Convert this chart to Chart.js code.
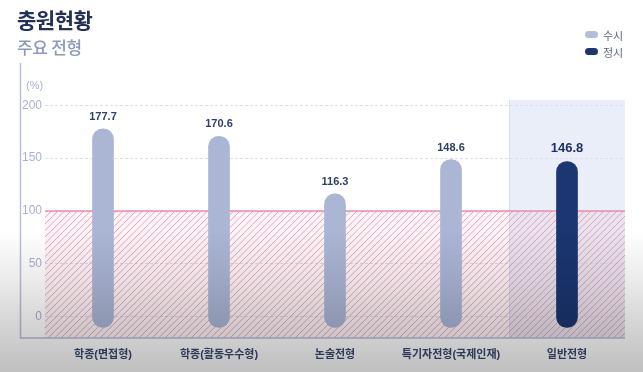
<!DOCTYPE html>
<html><head><meta charset="utf-8">
<script src="https://cdn.jsdelivr.net/npm/chart.js@4/dist/chart.umd.min.js"></script>
<style>
html,body{margin:0;padding:0;width:643px;height:372px;overflow:hidden;background:#fff;font-family:"Noto Sans CJK KR","Liberation Sans",sans-serif;}
#wrap{position:relative;width:643px;height:372px;}
#c{position:absolute;left:0;top:0;}
#title{position:absolute;left:17px;top:4px;font-size:21px;font-weight:700;color:#233158;letter-spacing:-0.5px;}
#sub{position:absolute;left:17px;top:34px;font-size:17px;font-weight:500;color:#8d9aba;letter-spacing:-0.3px;}
#legend{position:absolute;left:585px;top:26px;font-size:11px;color:#5f6780;}
#legend div{height:17px;display:flex;align-items:center;}
#legend span.m{display:inline-block;width:13px;height:7px;border-radius:4px;margin-right:5px;}
#shade{position:absolute;left:0;top:0;width:643px;height:372px;pointer-events:none;
background:linear-gradient(to bottom,rgba(0,0,0,0) 0px,rgba(0,0,0,0) 230px,rgba(0,0,0,0.08) 280px,rgba(0,0,0,0.17) 325px,rgba(0,0,0,0.25) 372px);}
</style></head>
<body><div id="wrap">
<canvas id="c" width="643" height="372"></canvas>
<div id="title">충원현황</div>
<div id="sub">주요 전형</div>
<div id="legend"><div><span class="m" style="background:#b3bedb"></span>수시</div><div><span class="m" style="background:#1b3670"></span>정시</div></div>
<div id="shade"></div>
</div>
<script>
const categories = ["학종(면접형)", "학종(활동우수형)", "논술전형", "특기자전형(국제인재)", "일반전형"];
const susiValues = [177.7, 170.6, 116.3, 148.6, null];
const jeongsiValues = [null, null, null, null, 146.8];
const yTicks = [0, 50, 100, 150, 200];
const barBase = -10;
const yMin = -20, yMax = 238;
const refLine = 100;

const FONT = '"Liberation Sans","Noto Sans CJK KR",sans-serif';

const bgPlugin = {
  id: 'bgPlugin',
  beforeDraw(chart) {
    const {ctx, chartArea, scales:{x, y}} = chart;
    const cw = x.getPixelForValue(1) - x.getPixelForValue(0);
    const cx = x.getPixelForValue(4);
    ctx.save();
    ctx.fillStyle = '#e9eef8';
    const top = y.getPixelForValue(205);
    ctx.fillRect(cx - cw/2, top, cw, chartArea.bottom - top);
    ctx.strokeStyle = '#d9dff0';
    ctx.lineWidth = 1;
    ctx.beginPath();
    ctx.moveTo(Math.round(cx - cw/2) + 0.5, top);
    ctx.lineTo(Math.round(cx - cw/2) + 0.5, chartArea.bottom);
    ctx.stroke();
    ctx.restore();
  },
  beforeDatasetsDraw(chart) {
    const {ctx, chartArea, scales:{y}} = chart;
    const top = y.getPixelForValue(refLine);
    const bottom = chartArea.bottom;
    ctx.save();
    ctx.beginPath();
    ctx.rect(chartArea.left, top, chartArea.right - chartArea.left, bottom - top);
    ctx.clip();
    ctx.fillStyle = 'rgba(240,160,180,0.10)';
    ctx.fillRect(chartArea.left, top, chartArea.right - chartArea.left, bottom - top);
    ctx.strokeStyle = 'rgba(230,130,160,0.72)';
    ctx.lineWidth = 1;
    const h = bottom - top;
    for (let s = chartArea.left - h; s < chartArea.right + 10; s += 6.5) {
      ctx.beginPath();
      ctx.moveTo(s, bottom);
      ctx.lineTo(s + h, top);
      ctx.stroke();
    }
    ctx.restore();
    ctx.save();
    ctx.strokeStyle = '#e98fa9';
    ctx.lineWidth = 1.5;
    ctx.beginPath();
    ctx.moveTo(chartArea.left, top);
    ctx.lineTo(chartArea.right, top);
    ctx.stroke();
    ctx.restore();
  },
  afterDatasetsDraw(chart) {
    const {ctx, scales:{x, y}} = chart;
    ctx.save();
    ctx.textAlign = 'center';
    ctx.textBaseline = 'alphabetic';
    chart.data.datasets.forEach((ds, di) => {
      const big = di === 1;
      ctx.font = (big ? '600 13px ' : '600 11px ') + FONT;
      ctx.fillStyle = big ? '#1e3266' : '#2e3f68';
      ds.data.forEach((v, i) => {
        if (!v) return;
        const val = v[1];
        ctx.fillText(val.toFixed(1), x.getPixelForValue(i), y.getPixelForValue(val) - (big ? 10 : 9));
      });
    });
    ctx.restore();
  },
  afterDraw(chart) {
    const {ctx, chartArea} = chart;
    ctx.save();
    ctx.strokeStyle = '#b9bfd9';
    ctx.lineWidth = 1.5;
    ctx.beginPath();
    ctx.moveTo(20.5, 63);
    ctx.lineTo(20.5, chartArea.bottom);
    ctx.lineTo(chartArea.right, chartArea.bottom);
    ctx.stroke();
    ctx.fillStyle = '#aab0cc';
    ctx.font = '11px ' + FONT;
    ctx.textAlign = 'left';
    ctx.textBaseline = 'middle';
    ctx.fillText('(%)', 26, 86);
    ctx.restore();
  }
};

const ctx = document.getElementById('c').getContext('2d');
new Chart(ctx, {
  type: 'bar',
  data: {
    labels: categories,
    datasets: [
      { label: '수시', data: susiValues.map(v => v == null ? null : [barBase, v]),
        backgroundColor: '#abb6d5', grouped: false, barThickness: 21,
        borderRadius: 11, borderSkipped: false },
      { label: '정시', data: jeongsiValues.map(v => v == null ? null : [barBase, v]),
        backgroundColor: '#1b3670', grouped: false, barThickness: 21,
        borderRadius: 11, borderSkipped: false }
    ]
  },
  options: {
    responsive: false,
    animation: false,
    layout: { padding: { top: 65, right: 18, left: 0, bottom: 0 } },
    plugins: { legend: { display: false }, tooltip: { enabled: false }, title: { display: false } },
    scales: {
      x: {
        grid: { display: false, drawTicks: false },
        border: { display: false },
        ticks: { padding: 10, color: '#3a4a70', font: { family: FONT, size: 11, weight: '600' }, maxRotation: 0 },
        afterFit(s) { s.height = 34; }
      },
      y: {
        min: yMin, max: yMax,
        afterBuildTicks(s) { s.ticks = yTicks.map(v => ({ value: v })); },
        grid: { color: '#dcdfef', lineWidth: 1, drawTicks: false },
        border: { display: false, dash: [3, 2] },
        ticks: { padding: 3, color: '#a9b0cc', font: { family: FONT, size: 12 } },
        afterFit(s) { s.width = 45; }
      }
    }
  },
  plugins: [bgPlugin]
});
</script>
</body></html>
